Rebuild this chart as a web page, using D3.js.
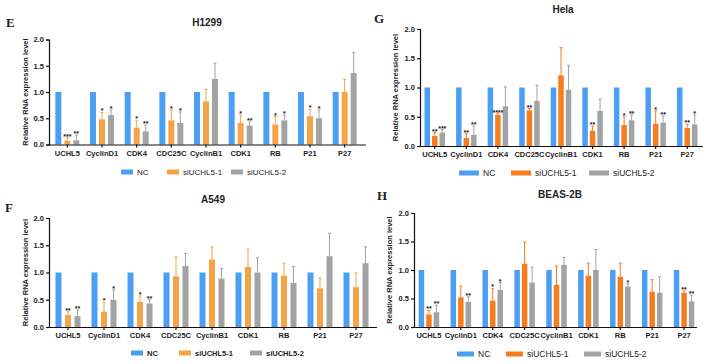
<!DOCTYPE html>
<html><head>
<meta charset="utf-8">
<script src="https://d3js.org/d3.v7.min.js"></script>
<style>
  body { margin: 0; background: #fff; }
  svg text { font-family: "Liberation Sans", Arial, sans-serif; font-weight: bold; fill: #222; }
  .axis path, .axis line { stroke: #111; stroke-width: 1.2px; }
  .axis text { font-size: 7.5px; }
  .letter { font-family: "Liberation Serif", "Times New Roman", serif !important; font-size: 13px; }
</style>
</head>
<body>
<svg id="chart" width="705" height="364"></svg>
<script>

// data
const genes = ["UCHL5", "CyclinD1", "CDK4", "CDC25C", "CyclinB1", "CDK1", "RB", "P21", "P27"];
const groups = ["NC", "siUCHL5-1", "siUCHL5-2"];
const yTicks = [0, 0.5, 1.0, 1.5, 2.0];

// H1299
const h1299Si1 = [0.07, 0.48, 0.32, 0.46, 0.82, 0.41, 0.38, 0.54, 1.00];
const h1299Si1Err = [0.06, 0.13, 0.14, 0.20, 0.23, 0.15, 0.15, 0.13, 0.24];
const h1299Si2 = [0.08, 0.56, 0.25, 0.41, 1.25, 0.36, 0.46, 0.50, 1.36];
const h1299Si2Err = [0.10, 0.10, 0.12, 0.21, 0.30, 0.07, 0.10, 0.16, 0.39];
const h1299Star1 = ["***", "*", "*", "*", "", "*", "*", "*", ""];
const h1299Star2 = ["**", "*", "**", "*", "", "**", "*", "*", ""];

// A549
const a549Si1 = [0.22, 0.28, 0.46, 0.93, 1.24, 1.10, 0.94, 0.71, 0.73];
const a549Si1Err = [0.06, 0.17, 0.11, 0.36, 0.23, 0.33, 0.23, 0.19, 0.26];
const a549Si2 = [0.20, 0.50, 0.43, 1.12, 0.89, 1.00, 0.81, 1.30, 1.17];
const a549Si2Err = [0.11, 0.18, 0.07, 0.23, 0.18, 0.27, 0.30, 0.42, 0.30];
const a549Star1 = ["**", "*", "*", "", "", "", "", "", ""];
const a549Star2 = ["**", "*", "**", "", "", "", "", "", ""];

// Hela
const helaSi1 = [0.17, 0.14, 0.53, 0.61, 1.21, 0.26, 0.36, 0.38, 0.31];
const helaSi1Err = [0.06, 0.07, 0.02, 0.03, 0.47, 0.08, 0.14, 0.22, 0.06];
const helaSi2 = [0.23, 0.19, 0.68, 0.77, 0.96, 0.60, 0.44, 0.40, 0.37];
const helaSi2Err = [0.05, 0.15, 0.33, 0.27, 0.42, 0.20, 0.09, 0.11, 0.16];
const helaStar1 = ["**", "**", "****", "**", "", "**", "*", "*", "**"];
const helaStar2 = ["***", "**", "", "", "", "", "**", "**", "*"];

// BEAS-2B
const beasSi1 = [0.22, 0.52, 0.46, 1.11, 0.74, 0.90, 0.88, 0.62, 0.60];
const beasSi1Err = [0.07, 0.20, 0.22, 0.38, 0.33, 0.22, 0.24, 0.21, 0.03];
const beasSi2 = [0.26, 0.44, 0.65, 0.78, 1.09, 1.00, 0.71, 0.60, 0.45];
const beasSi2Err = [0.12, 0.09, 0.13, 0.27, 0.13, 0.36, 0.05, 0.28, 0.11];
const beasStar1 = ["**", "", "*", "", "", "", "", "", "**"];
const beasStar2 = ["**", "**", "*", "", "", "", "*", "", "**"];

const blue = "#4c9ef3";
const grey = "#a3a3a3";

const svg = d3.select("svg#chart");

function drawPanel(p) {
  const g = svg.append("g");

  const x = d3.scaleBand().domain(genes).range([p.x0, p.x1]);
  const y = d3.scaleLinear().domain([0, 2]).range([p.yBottom, p.yTop]);

  // one row per bar
  const rows = [];
  genes.forEach((gene, i) => {
    rows.push({gene: gene, k: 0, v: 1.0, err: 0, star: ""});
    rows.push({gene: gene, k: 1, v: p.si1[i], err: p.si1Err[i], star: p.star1[i]});
    rows.push({gene: gene, k: 2, v: p.si2[i], err: p.si2Err[i], star: p.star2[i]});
  });
  const colors = [blue, p.orange, grey];
  const cx = d => x(d.gene) + x.bandwidth() / 2 + (d.k - 1) * p.off;

  // error bars (drawn under the bars)
  const eb = rows.filter(d => d.err > 0);
  g.selectAll("line.err").data(eb).join("line")
    .attr("x1", cx).attr("x2", cx)
    .attr("y1", d => y(d.v)).attr("y2", d => y(d.v + d.err))
    .attr("stroke", d => colors[d.k]).attr("stroke-width", 1);
  g.selectAll("line.cap").data(eb).join("line")
    .attr("x1", d => cx(d) - 1.5).attr("x2", d => cx(d) + 1.5)
    .attr("y1", d => y(d.v + d.err)).attr("y2", d => y(d.v + d.err))
    .attr("stroke", d => colors[d.k]).attr("stroke-width", 1);

  g.selectAll("rect.bar").data(rows).join("rect")
    .attr("x", d => cx(d) - p.bw / 2)
    .attr("width", p.bw)
    .attr("y", d => y(d.v))
    .attr("height", d => y(0) - y(d.v))
    .attr("fill", d => colors[d.k]);

  g.selectAll("text.star").data(rows.filter(d => d.star != "")).join("text")
    .attr("x", cx)
    .attr("y", d => y(d.v + d.err) + 1)
    .attr("text-anchor", "middle")
    .style("font-size", "7px")
    .text(d => d.star);

  // axes
  g.append("g").attr("class", "axis")
    .attr("transform", "translate(" + p.axisX + ",0)")
    .call(d3.axisLeft(y).tickValues(yTicks).tickFormat(d3.format(".1f")).tickSize(3).tickPadding(2));
  g.append("g").attr("class", "axis")
    .attr("transform", "translate(0," + p.yBottom + ")")
    .call(d3.axisBottom(x).tickSize(3).tickSizeOuter(0).tickPadding(3))
    .call(a => a.select(".domain").attr("d", "M" + p.axisX + ",0.5H" + p.axisEnd));

  g.append("text")
    .attr("transform", "translate(" + p.labelX + "," + (p.yTop + p.yBottom) / 2 + ") rotate(-90)")
    .attr("text-anchor", "middle")
    .style("font-size", "7.5px")
    .text("Relative RNA expression level");

  g.append("text").attr("x", p.titleX).attr("y", p.titleY)
    .attr("text-anchor", "middle").style("font-size", "10px").text(p.title);
  g.append("text").attr("class", "letter").attr("x", p.letterX).attr("y", p.letterY)
    .text(p.letter);

  // legend
  groups.forEach((name, i) => {
    g.append("rect").attr("x", p.legX[i]).attr("y", p.legY - 2.5)
      .attr("width", p.swW).attr("height", 5).attr("fill", colors[i]);
    g.append("text").attr("x", p.legX[i] + p.swW + 4).attr("y", p.legY + 3)
      .style("font-size", p.legSize).style("font-weight", p.legBold ? "bold" : "normal")
      .text(name);
  });
}

drawPanel({title: "H1299", letter: "E", si1: h1299Si1, si1Err: h1299Si1Err, si2: h1299Si2, si2Err: h1299Si2Err,
  star1: h1299Star1, star2: h1299Star2, orange: "#f6a347",
  x0: 50, x1: 362, axisX: 49, axisEnd: 366, yTop: 39.5, yBottom: 144.5, off: 9, bw: 6,
  labelX: 28, titleX: 207, titleY: 26, letterX: 6, letterY: 27,
  legX: [121, 167, 231], legY: 172, swW: 12, legBold: false, legSize: "8px"});

drawPanel({title: "A549", letter: "F", si1: a549Si1, si1Err: a549Si1Err, si2: a549Si2, si2Err: a549Si2Err,
  star1: a549Star1, star2: a549Star2, orange: "#f6a347",
  x0: 50, x1: 374, axisX: 49, axisEnd: 377, yTop: 218, yBottom: 327, off: 9.5, bw: 6,
  labelX: 28, titleX: 213, titleY: 203, letterX: 5, letterY: 212,
  legX: [131, 179, 250], legY: 353, swW: 12, legBold: true, legSize: "7.5px"});

drawPanel({title: "Hela", letter: "G", si1: helaSi1, si1Err: helaSi1Err, si2: helaSi2, si2Err: helaSi2Err,
  star1: helaStar1, star2: helaStar2, orange: "#f67d1e",
  x0: 419, x1: 703, axisX: 420, axisEnd: 703, yTop: 29, yBottom: 146, off: 7.5, bw: 5.5,
  labelX: 398, titleX: 563, titleY: 13, letterX: 374, letterY: 23,
  legX: [459, 511, 589], legY: 173, swW: 20, legBold: false, legSize: "8.5px"});

drawPanel({title: "BEAS-2B", letter: "H", si1: beasSi1, si1Err: beasSi1Err, si2: beasSi2, si2Err: beasSi2Err,
  star1: beasStar1, star2: beasStar2, orange: "#f67d1e",
  x0: 413, x1: 700, axisX: 414, axisEnd: 697, yTop: 213, yBottom: 327, off: 7.5, bw: 5.5,
  labelX: 392, titleX: 560, titleY: 198, letterX: 377, letterY: 200,
  legX: [457, 506, 584], legY: 354, swW: 17, legBold: false, legSize: "8.5px"});

</script>
</body></html>
